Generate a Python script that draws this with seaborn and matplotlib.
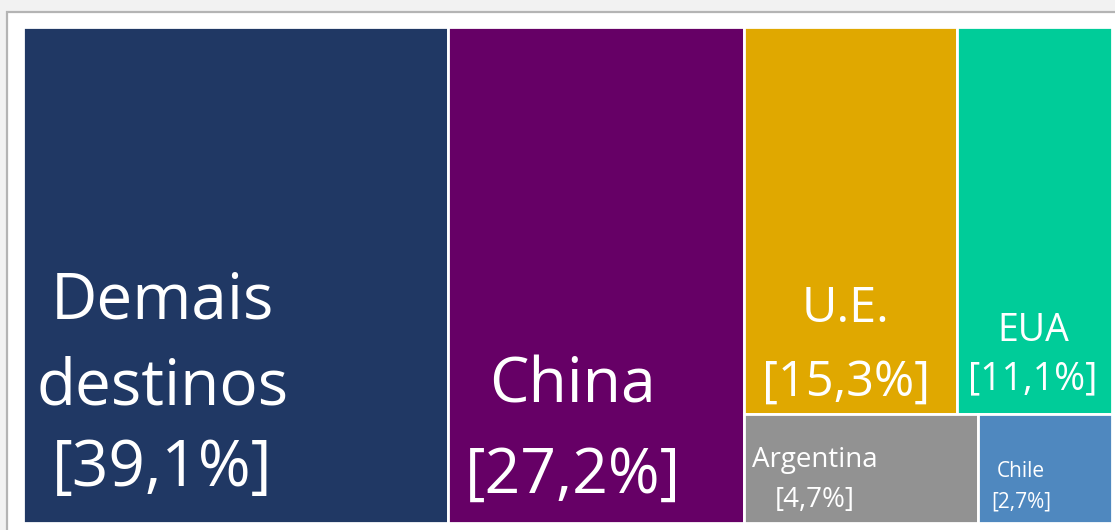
import matplotlib
matplotlib.use("Agg")
import matplotlib.pyplot as plt
from matplotlib.patches import Rectangle
import seaborn as sns

# ---- data ----
names = ["Demais\ndestinos", "China", "U.E.", "EUA", "Argentina", "Chile"]
shares = [39.1, 27.2, 15.3, 11.1, 4.7, 2.7]
share_labels = ["[39,1%]", "[27,2%]", "[15,3%]", "[11,1%]", "[4,7%]", "[2,7%]"]
colors = ["#203864", "#660066", "#E0A800", "#00CC99", "#929292", "#4F88BF"]

sns.set_theme(style="white")
plt.rcParams["font.family"] = ["Open Sans", "DejaVu Sans"]

W_PX, H_PX = 1115, 530
fig = plt.figure(figsize=(W_PX / 100, H_PX / 100), dpi=100)
fig.patch.set_facecolor("#f2f2f2")
ax = fig.add_axes([0, 0, 1, 1])
ax.set_xlim(0, W_PX)
ax.set_ylim(H_PX, 0)
ax.axis("off")

# white panel with grey frame
ax.add_patch(Rectangle((7, 12), W_PX, H_PX, facecolor="white",
                       edgecolor="#b4b4b4", linewidth=1.6, zorder=0))

# treemap area
X0, Y0, TW, TH = 23, 27, 1089, 496

# layout structure: columns; last column split in rows of items
structure = [[[0]], [[1]], [[2, 3], [4, 5]]]
rects = {}
total = sum(shares)
cx = X0
for col in structure:
    col_sum = sum(shares[i] for row in col for i in row)
    cw = TW * col_sum / total
    cy = Y0
    for row in col:
        row_sum = sum(shares[i] for i in row)
        rh = TH * row_sum / col_sum
        rx = cx
        for i in row:
            rw = cw * shares[i] / row_sum
            rects[i] = (rx, cy, rw, rh)
            rx += rw
        cy += rh
    cx += cw

for i, (x, y, w, h) in rects.items():
    ax.add_patch(Rectangle((x, y), w, h, facecolor=colors[i],
                           edgecolor="white", linewidth=2.0, zorder=1))

# label styling: fontsize, centre-x fraction, baseline fractions per line
label_style = {
    0: (46, 0.328, [0.587, 0.762, 0.925]),
    1: (45, 0.42, [0.758, 0.94]),
    2: (35, 0.476, [0.761, 0.951]),
    3: (27, 0.49, [0.811, 0.935]),
    4: (20, 0.30, [0.48, 0.85]),
    5: (15, 0.32, [0.574, 0.86]),
}

for i, (x, y, w, h) in rects.items():
    fs, fx, bls = label_style[i]
    lines = names[i].split("\n") + [share_labels[i]]
    for line, bl in zip(lines, bls):
        ax.text(x + w * fx, y + h * bl, line, color="white", fontsize=fs,
                ha="center", va="baseline", zorder=2)

fig.savefig("out.png", dpi=100, facecolor=fig.get_facecolor())
